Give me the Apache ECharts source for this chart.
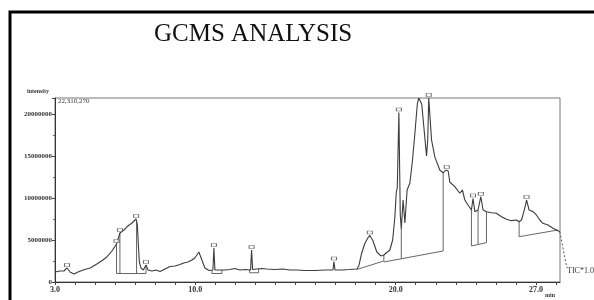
<!DOCTYPE html>
<html lang="en">
<head>
<meta charset="UTF-8">
<title>GCMS analysis</title>
<script src="https://cdn.jsdelivr.net/npm/echarts@6/dist/echarts.min.js"></script>
<style>
  html, body { margin: 0; padding: 0; background: #fff; }
  #chart { width: 594px; height: 300px; }
</style>
</head>
<body>
<div id="chart"></div>
<script>
// retention time (min) and intensity
var rtMin = [3.00, 3.25, 3.45, 3.60, 3.75, 3.95, 4.15, 4.40, 4.75, 5.09, 5.39, 5.59, 5.84, 6.07,
  6.24, 6.44, 6.64, 6.84, 7.05, 7.11, 7.16, 7.21, 7.29, 7.41, 7.54, 7.64, 7.84, 8.04, 8.24,
  8.49, 8.74, 8.99, 9.23, 9.43, 9.63, 9.83, 9.98, 10.18, 10.33, 10.48, 10.68, 10.88, 10.93,
  10.98, 11.23, 11.48, 11.73, 11.98, 12.23, 12.48, 12.76, 12.81, 12.86, 13.07, 13.32, 13.57,
  13.97, 14.37, 14.72, 15.07, 15.47, 15.97, 16.47, 16.87, 16.92, 16.97, 17.31, 17.71, 18.06,
  18.16, 18.29, 18.46, 18.61, 18.71, 18.86, 19.06, 19.26, 19.41, 19.56, 19.71, 19.85, 19.96,
  20.03, 20.08, 20.16, 20.23, 20.28, 20.37, 20.46, 20.57, 20.71, 20.84, 20.96, 21.08, 21.15,
  21.23, 21.30, 21.42, 21.54, 21.60, 21.65, 21.73, 21.79, 21.95, 22.20, 22.37, 22.50, 22.62,
  22.70, 22.95, 23.20, 23.33, 23.45, 23.61, 23.78, 23.86, 23.95, 24.11, 24.25, 24.36, 24.53,
  24.78, 25.03, 25.28, 25.53, 25.78, 26.03, 26.16, 26.28, 26.44, 26.53, 26.66, 26.86, 27.02,
  27.19, 27.35, 27.60, 27.85, 28.10, 28.19];
var intensity = [1190000, 1310000, 1310000, 1670000, 1190000, 950000, 1190000, 1430000, 1670000,
  2140000, 2620000, 2980000, 3690000, 4520000,
  5830000, 6190000, 6670000, 7020000, 7500000, 6790000, 4400000, 2380000, 1670000, 1430000,
  2020000, 1430000, 1310000, 1430000, 1250000,
  1550000, 1850000, 1900000, 2080000, 2260000, 2380000, 2620000, 2860000, 3570000, 2620000,
  1670000, 1370000, 1430000, 4050000,
  1430000, 1430000, 1430000, 1490000, 1610000, 1430000, 1490000, 1430000, 3810000, 1490000,
  1550000, 1610000, 1550000,
  1490000, 1550000, 1430000, 1430000, 1370000, 1370000, 1430000, 1430000, 2440000, 1430000,
  1430000, 1490000, 1550000,
  1900000, 3330000, 4580000, 5240000, 5540000, 4940000, 3570000, 3100000, 3210000, 3510000,
  3810000, 5000000, 7740000,
  10710000, 11190000, 20180000, 7980000, 6310000, 9760000, 7020000, 10950000, 11790000,
  14520000, 17740000, 21190000, 21900000,
  21900000, 21190000, 18100000, 15000000, 16900000, 21900000, 21900000, 16900000, 14920000,
  13330000, 12980000, 13330000, 13210000,
  11900000, 11350000, 10560000, 10950000, 9760000, 9170000, 8570000, 9940000, 8370000,
  8570000, 10150000, 8570000, 8370000,
  8250000, 8180000, 7770000, 7460000, 7300000, 7380000, 7180000, 7380000, 8770000, 9760000,
  8570000, 8370000, 7980000,
  7380000, 6990000, 6790000, 6390000, 6110000, 5990000];

// integration drop lines (time, top, bottom)
var dropT = [6.07, 6.24, 7.07, 7.54, 10.83, 11.33, 12.71, 13.16, 19.41, 20.28, 22.37, 23.78, 24.11, 24.53, 26.16];
var dropTop = [4520000, 5830000, 7200000, 2020000, 1430000, 1430000, 1430000, 1550000, 3210000, 6310000, 12980000, 8570000, 8570000, 8370000, 7180000];
var dropBottom = [1010000, 1010000, 1010000, 1010000, 1010000, 1010000, 1100000, 1100000, 2500000, 2770000, 3690000, 4290000, 4520000, 4680000, 5390000];

// integration baselines (start, end)
var baseT0 = [6.07, 10.83, 12.71, 18.06, 19.41, 23.78, 26.16];
var baseI0 = [1010000, 1010000, 1100000, 1490000, 2380000, 4290000, 5390000];
var baseT1 = [7.54, 11.33, 13.16, 19.41, 22.37, 24.53, 28.10];
var baseI1 = [1010000, 1010000, 1100000, 2500000, 3690000, 4680000, 6190000];

// labelled peaks
var peakT = [3.60, 6.07, 6.24, 7.05, 7.54, 10.93, 12.81, 16.92, 18.71, 20.16, 21.65, 22.55, 23.86, 24.25, 26.53];
var peakI = [1670000, 4520000, 5830000, 7500000, 2020000, 4050000, 3810000, 2440000, 5540000, 20180000, 21900000, 13330000, 9940000, 10150000, 9760000];

var xLabelVals = [3, 10, 20, 27];

var chart = echarts.init(document.getElementById('chart'));
var serif = 'Liberation Serif';
var ink = '#3c3c3c';

var trace = rtMin.map(function (t, i) { return [t, intensity[i]]; });
var segs = [];
dropT.forEach(function (t, i) { segs.push([[t, dropTop[i]], [t, dropBottom[i]]]); });
baseT0.forEach(function (t, i) { segs.push([[t, baseI0[i]], [baseT1[i], baseI1[i]]]); });

var series = [{
  type: 'line',
  data: trace,
  symbol: 'none',
  lineStyle: { color: ink, width: 1.1 },
  z: 3
}];
segs.forEach(function (s) {
  series.push({
    type: 'line', data: s, symbol: 'none', silent: true,
    lineStyle: { color: '#555', width: 0.9 }, z: 2
  });
});
series.push({
  type: 'scatter',
  data: peakT.map(function (t, i) { return [t, peakI[i]]; }),
  symbol: 'rect',
  symbolSize: [5, 3],
  symbolOffset: [0, -3],
  itemStyle: { color: '#fff', borderColor: '#444', borderWidth: 0.8 },
  z: 4
});

chart.setOption({
  animation: false,
  title: {
    text: 'GCMS ANALYSIS',
    left: 149, top: 17,
    textStyle: { fontFamily: serif, fontSize: 25, fontWeight: 'normal', color: '#111' }
  },
  grid: { left: 55, right: 34, top: 98, bottom: 18, show: true, borderColor: '#777', borderWidth: 1 },
  xAxis: {
    type: 'value', min: 3, max: 28.2, interval: 1,
    axisLine: { lineStyle: { color: '#333' } },
    axisTick: { length: 3, lineStyle: { color: '#444' } },
    splitLine: { show: false },
    axisLabel: {
      margin: 4, fontFamily: serif, fontSize: 8, fontWeight: 'bold', color: '#333',
      showMaxLabel: false,
      formatter: function (v) { return xLabelVals.indexOf(v) >= 0 ? v.toFixed(1) : ''; }
    }
  },
  yAxis: {
    type: 'value', min: 0, max: 21900000, interval: 5000000,
    name: 'intensity',
    nameLocation: 'end',
    nameGap: 4,
    nameTextStyle: { fontFamily: serif, fontSize: 6, fontWeight: 'bold', color: '#333', align: 'right', padding: [0, 6, 0, 0] },
    axisLine: { show: true, lineStyle: { color: '#333' } },
    axisTick: { show: true, length: 3, lineStyle: { color: '#444' } },
    minorTick: { show: true, splitNumber: 2, length: 2, lineStyle: { color: '#666' } },
    splitLine: { show: false },
    axisLabel: {
      margin: 3, fontFamily: serif, fontSize: 7, fontWeight: 'bold', color: '#333',
      showMaxLabel: false,
      formatter: function (v) { return String(v); }
    }
  },
  graphic: [
    { type: 'rect', shape: { x: 10, y: 12, width: 700, height: 400 }, style: { fill: 'none', stroke: '#000', lineWidth: 3 }, silent: true },
    { type: 'text', left: 58, top: 98, style: { text: '22,310,270', fontFamily: serif, fontSize: 7, fill: '#333' } },
    { type: 'text', left: 545, top: 292, style: { text: 'min', fontFamily: serif, fontSize: 6, fontWeight: 'bold', fill: '#333' } },
    { type: 'text', left: 567, top: 267, style: { text: 'TIC*1.0', fontFamily: serif, fontSize: 8, fill: '#333' } }
  ],
  series: series
});

// dashed pointer from the trace end to the TIC label
var p = chart.convertToPixel({ gridIndex: 0 }, [rtMin[rtMin.length - 1], intensity[intensity.length - 1]]);
chart.setOption({
  graphic: [{}, {}, {}, {}, {
    type: 'line', shape: { x1: p[0], y1: p[1], x2: p[0] + 7, y2: p[1] + 36 },
    style: { stroke: '#555', lineWidth: 1, lineDash: [2, 2] }, silent: true
  }]
});
</script>
</body>
</html>
